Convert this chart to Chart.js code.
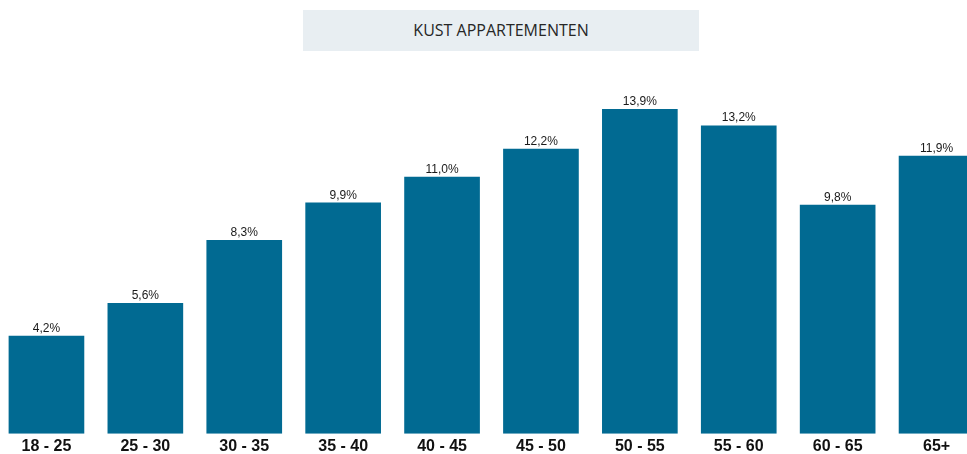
<!DOCTYPE html>
<html>
<head>
<meta charset="utf-8">
<script src="https://cdn.jsdelivr.net/npm/chart.js@4/dist/chart.umd.min.js"></script>
<style>
    html, body { margin: 0; padding: 0; background: #ffffff; overflow: hidden; }
    body { width: 967px; height: 454px; position: relative; }
    #title {
        position: absolute; left: 303px; top: 10px; width: 396px; height: 41px;
        background: #e8eef2; color: #262626;
        font-family: "Open Sans", "Liberation Sans", sans-serif; font-size: 16px;
        line-height: 41px; text-align: center; z-index: 2;
    }
    #chartBox { position: absolute; left: -3px; top: 0; }
</style>
</head>
<body>
<div id="title">KUST APPARTEMENTEN</div>
<div id="chartBox"><canvas id="ageChart" width="989" height="459"></canvas></div>
<script>
// ============================================================================
// DATA
// ============================================================================

const ageGroups = ['18 - 25', '25 - 30', '30 - 35', '35 - 40', '40 - 45', '45 - 50', '50 - 55', '55 - 60', '60 - 65', '65+'];
const shares = [4.2, 5.6, 8.3, 9.9, 11.0, 12.2, 13.9, 13.2, 9.8, 11.9];

const barColor = '#016a92';

/**
 * Draw the percentage above every bar
 */
const valueLabels = {
    id: 'valueLabels',
    afterDatasetsDraw(chart) {
        const ctx = chart.ctx;
        const meta = chart.getDatasetMeta(0);
        ctx.save();
        ctx.font = "12px 'Liberation Sans', Arial, sans-serif";
        ctx.fillStyle = '#1a1a1a';
        ctx.textAlign = 'center';
        ctx.textBaseline = 'alphabetic';
        meta.data.forEach((bar, i) => {
            const text = shares[i].toFixed(1).replace('.', ',') + '%';
            ctx.fillText(text, bar.x, bar.y - 4);
        });
        ctx.restore();
    }
};

new Chart(document.getElementById('ageChart'), {
    type: 'bar',
    data: {
        labels: ageGroups,
        datasets: [{
            data: shares,
            backgroundColor: barColor,
            borderWidth: 0,
            barPercentage: 0.85,
            categoryPercentage: 0.9
        }]
    },
    options: {
        responsive: false,
        animation: false,
        layout: { padding: { top: 60, left: 0, right: 0, bottom: 0 } },
        plugins: {
            legend: { display: false },
            tooltip: { enabled: false }
        },
        scales: {
            x: {
                grid: { display: false, drawTicks: false },
                border: { display: false },
                ticks: {
                    color: '#111111',
                    padding: 3,
                    maxRotation: 0,
                    autoSkip: false,
                    font: { family: "'Liberation Sans', Arial, sans-serif", size: 16, weight: 'bold' }
                }
            },
            y: {
                display: false,
                min: 0,
                max: 16
            }
        }
    },
    plugins: [valueLabels]
});
</script>
</body>
</html>
